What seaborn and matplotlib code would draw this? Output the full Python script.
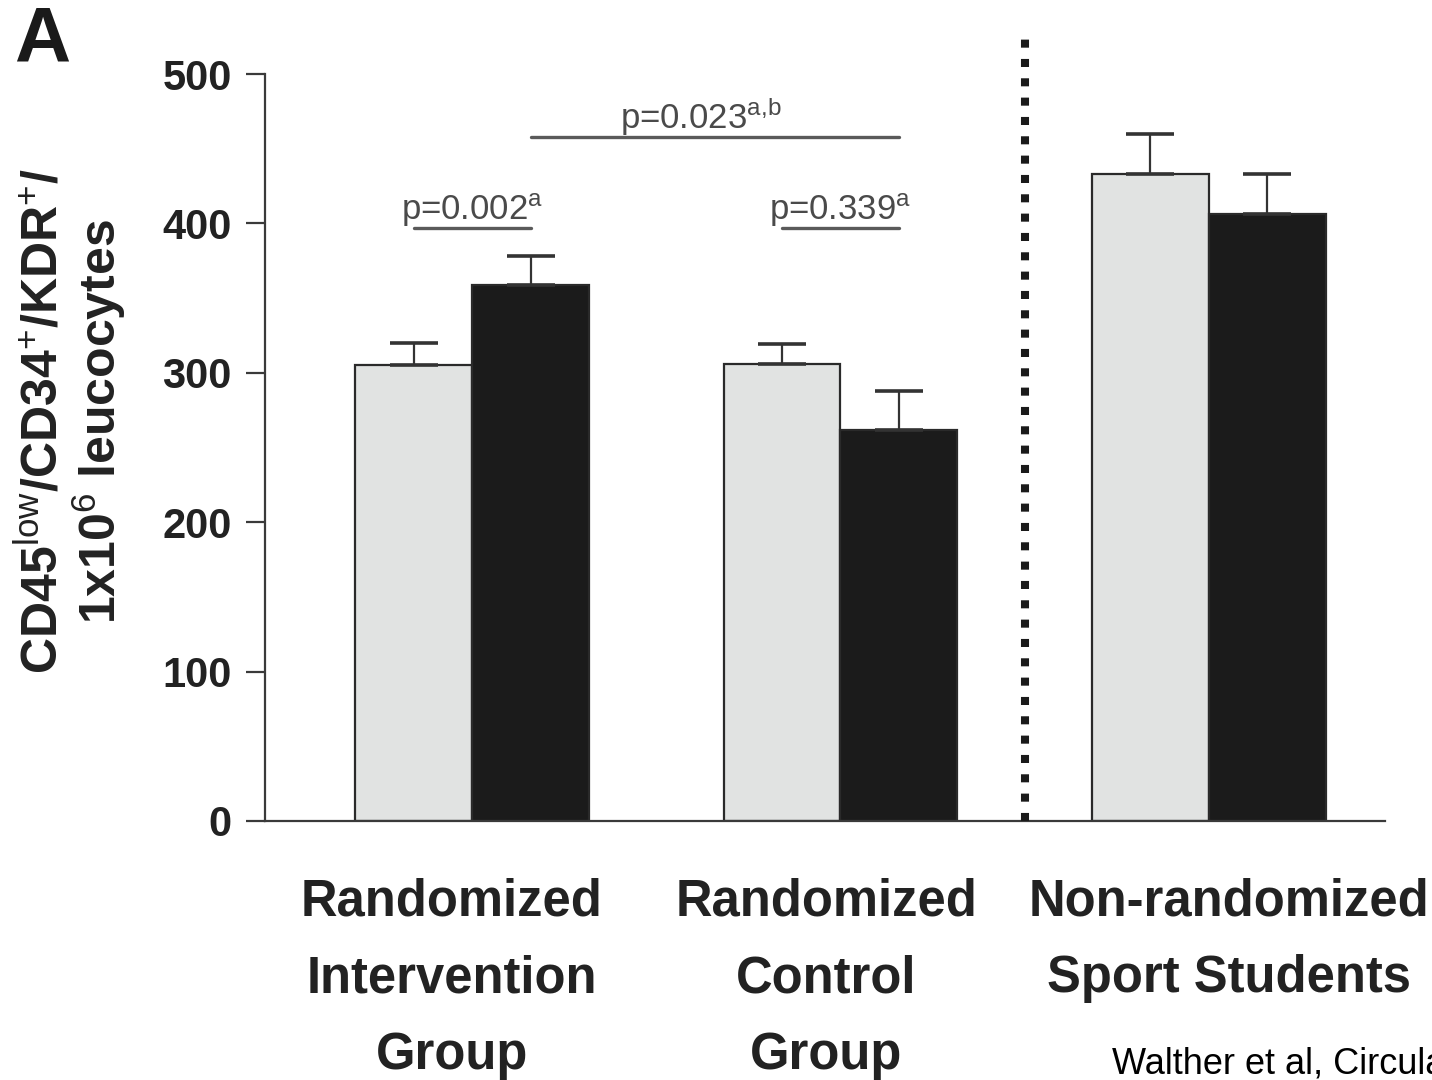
import numpy as np
import pandas as pd
import matplotlib
matplotlib.use("Agg")
import matplotlib.pyplot as plt
import matplotlib.transforms as mtransforms
import seaborn as sns

# ---------------- data ----------------
groups = ["Randomized\nIntervention\nGroup",
          "Randomized\nControl\nGroup",
          "Non-randomized\nSport Students"]
timepoints = ["Baseline", "Follow-up"]
baseline_mean = [305, 306, 433]
followup_mean = [359, 262, 406]
baseline_sem = [15, 13, 27]
followup_sem = [19, 26, 27]
yticks = [0, 100, 200, 300, 400, 500]
ytick_labels = ["0", "100", "200", "300", "400", "500"]
pvals = ["p=0.002$^{\\mathrm{a}}$", "p=0.339$^{\\mathrm{a}}$", "p=0.023$^{\\mathrm{a{,}b}}$"]

# ---------------- style ----------------
sns.set_theme(style="ticks")
plt.rcParams["font.family"] = ["Liberation Sans", "DejaVu Sans"]
plt.rcParams["mathtext.fontset"] = "custom"
plt.rcParams["mathtext.rm"] = "Liberation Sans"
plt.rcParams["mathtext.bf"] = "Liberation Sans:bold"
plt.rcParams["mathtext.it"] = "Liberation Sans:italic"

LIGHT = "#e1e3e2"
DARK = "#1b1b1b"
EDGE = "#2a2a2a"
AXC = "#3a3a3a"

df = pd.DataFrame({
    "group": groups * 2,
    "time": [timepoints[0]] * 3 + [timepoints[1]] * 3,
    "value": baseline_mean + followup_mean,
})

fig = plt.figure(figsize=(14.32, 10.8), dpi=100)
ax = fig.add_axes([265 / 1432, 1 - 821 / 1080, (1385 - 265) / 1432, (821 - 74) / 1080])

sns.barplot(data=df, x="group", y="value", hue="time", order=groups,
            hue_order=timepoints, palette=[LIGHT, DARK], saturation=1,
            width=0.635, edgecolor=EDGE, linewidth=1.6, errorbar=None,
            legend=False, ax=ax)

# bar geometry from the drawn patches
bars = [p for p in ax.patches if p.get_height() > 0]
bars = sorted(bars, key=lambda p: p.get_x())
centers = [p.get_x() + p.get_width() / 2 for p in bars]
heights = [p.get_height() for p in bars]
errs = []
for b, f in zip(baseline_sem, followup_sem):
    errs += [b, f]

ax.errorbar(centers, heights, yerr=[np.zeros(len(errs)), errs], fmt="none",
            ecolor="#333333", elinewidth=1.6, capsize=17, capthick=2.6, zorder=3)

ax.set_xlim(-0.562, 2.478)
ax.set_ylim(0, 500)
sns.despine(ax=ax)
for s in ["left", "bottom"]:
    ax.spines[s].set_color(AXC)
    ax.spines[s].set_linewidth(1.6)

ax.set_yticks(yticks)
ax.set_yticklabels(ytick_labels, fontsize=30, fontweight="bold", color="#222222")
ax.tick_params(axis="y", length=14, width=1.6, color=AXC, pad=10)
ax.set_xticks(range(len(groups)))
ax.set_xticklabels(groups, fontsize=36.5, fontweight="bold", color="#222222", linespacing=1.72)
ax.tick_params(axis="x", length=0, pad=41)
# small horizontal nudges of the category labels, as in the original layout
for lab, dx in zip(ax.get_xticklabels(), [-20, -14, 20]):
    lab.set_transform(lab.get_transform() +
                      mtransforms.ScaledTranslation(dx / 100, 0, fig.dpi_scale_trans))
ax.set_xlabel("")
ax.set_ylabel("CD45$^{\\mathrm{low}}$/CD34$^{\\mathrm{+}}$/KDR$^{\\mathrm{+}}$/\n1x10$^{\\mathrm{6}}$ leucocytes",
              fontsize=36, fontweight="bold", color="#222222", linespacing=1.05)
ax.yaxis.set_label_coords(-0.122, 0.535)

# separator
ax.axvline(1.5, ymin=0, ymax=(821 - 35) / 747, color="#1a1a1a", lw=5.8,
           linestyle=(0, (1, 1.4)), clip_on=False, zorder=4)

# significance annotations
PC = "#4a4a4a"
y_low = 397
y_high = 458
ax.plot([centers[0], centers[1]], [y_low, y_low], color="#5a5a5a", lw=2.4)
ax.text(0.0, y_low + 5, pvals[0], ha="center", va="baseline", fontsize=25, color=PC)
ax.plot([centers[2], centers[3]], [y_low, y_low], color="#5a5a5a", lw=2.4)
ax.text(1.0, y_low + 5, pvals[1], ha="center", va="baseline", fontsize=25, color=PC)
ax.plot([centers[1], centers[3]], [y_high, y_high], color="#5a5a5a", lw=2.4)
ax.text(0.62, y_high + 5, pvals[2], ha="center", va="baseline", fontsize=25, color=PC)

fig.text(14 / 1432, 1 - 62 / 1080, "A", fontsize=56, fontweight="bold", color="#1a1a1a",
         ha="left", va="baseline")
fig.text(1112 / 1432, 1 - 1073 / 1080, "Walther et al, Circulation", fontsize=26,
         color="black", ha="left", va="baseline")

fig.savefig("out.png", dpi=100)
